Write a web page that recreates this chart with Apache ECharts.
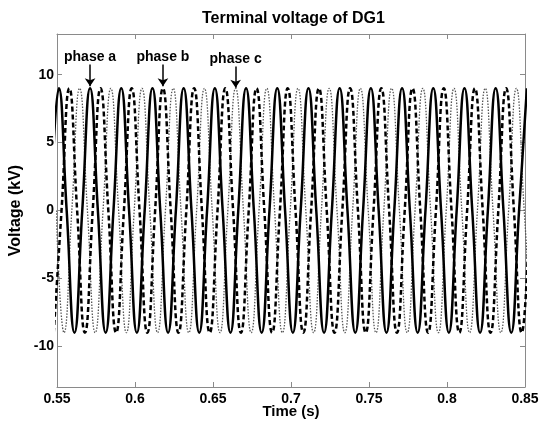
<!DOCTYPE html>
<html><head><meta charset="utf-8">
<script src="https://cdn.jsdelivr.net/npm/echarts@6/dist/echarts.min.js"></script>
<style>html,body{margin:0;padding:0;background:#fff}#c{width:548px;height:422px}</style>
</head><body><div id="c"></div>
<script>
// ---- data (time in s, voltage in kV) ----
const phaseATimes = [0.5462,0.5512,0.5562,0.5612,0.5662,0.5712,0.5762,0.5812,0.5862,0.5912,
0.5962,0.6012,0.6062,0.6112,0.6162,0.6212,0.6262,0.6312,0.6362,0.6412,
0.6462,0.6512,0.6562,0.6612,0.6662,0.6712,0.6762,0.6812,0.6862,0.6912,
0.6962,0.7012,0.7062,0.7112,0.7162,0.7212,0.7262,0.7312,0.7362,0.7412,
0.7462,0.7512,0.7562,0.7612,0.7662,0.7712,0.7762,0.7812,0.7862,0.7912,
0.7962,0.8012,0.8062,0.8112,0.8162,0.8212,0.8262,0.8312,0.8362,0.8412,
0.8462,0.8512];
const phaseAValues = [0,9,0,-9,0,9,0,-9,0,9,0,-9,0,9,0,-9,0,9,0,-9,
0,9,0,-9,0,9,0,-9,0,9,0,-9,0,9,0,-9,0,9,0,-9,
0,9,0,-9,0,9,0,-9,0,9,0,-9,0,9,0,-9,0,9,0,-9,
0,9];
const phaseBTimes = [0.5479,0.5529,0.5579,0.5629,0.5679,0.5729,0.5779,0.5829,0.5879,0.5929,
0.5979,0.6029,0.6079,0.6129,0.6179,0.6229,0.6279,0.6329,0.6379,0.6429,
0.6479,0.6529,0.6579,0.6629,0.6679,0.6729,0.6779,0.6829,0.6879,0.6929,
0.6979,0.7029,0.7079,0.7129,0.7179,0.7229,0.7279,0.7329,0.7379,0.7429,
0.7479,0.7529,0.7579,0.7629,0.7679,0.7729,0.7779,0.7829,0.7879,0.7929,
0.7979,0.8029,0.8079,0.8129,0.8179,0.8229,0.8279,0.8329,0.8379,0.8429,
0.8479,0.8529];
const phaseBValues = [-9,0,9,0,-9,0,9,0,-9,0,9,0,-9,0,9,0,-9,0,9,0,
-9,0,9,0,-9,0,9,0,-9,0,9,0,-9,0,9,0,-9,0,9,0,
-9,0,9,0,-9,0,9,0,-9,0,9,0,-9,0,9,0,-9,0,9,0,
-9,0];
const phaseCTimes = [0.5495,0.5545,0.5595,0.5645,0.5695,0.5745,0.5795,0.5845,0.5895,0.5945,
0.5995,0.6045,0.6095,0.6145,0.6195,0.6245,0.6295,0.6345,0.6395,0.6445,
0.6495,0.6545,0.6595,0.6645,0.6695,0.6745,0.6795,0.6845,0.6895,0.6945,
0.6995,0.7045,0.7095,0.7145,0.7195,0.7245,0.7295,0.7345,0.7395,0.7445,
0.7495,0.7545,0.7595,0.7645,0.7695,0.7745,0.7795,0.7845,0.7895,0.7945,
0.7995,0.8045,0.8095,0.8145,0.8195,0.8245,0.8295,0.8345,0.8395,0.8445,
0.8495,0.8545];
const phaseCValues = [0,-9,0,9,0,-9,0,9,0,-9,0,9,0,-9,0,9,0,-9,0,9,
0,-9,0,9,0,-9,0,9,0,-9,0,9,0,-9,0,9,0,-9,0,9,
0,-9,0,9,0,-9,0,9,0,-9,0,9,0,-9,0,9,0,-9,0,9,
0,-9];

const xTickLabels = ['0.55','0.6','0.65','0.7','0.75','0.8','0.85'];
const yTickLabels = ['-10','-5','0','5','10'];

// annotations: label text, time of arrow, label height, arrow start and tip (kV)
const annotationNames = ['phase a','phase b','phase c'];
const annotationTimes = [0.5712, 0.6179, 0.6645];
const annotationLabelY = [11.3, 11.3, 11.15];
const annotationArrowTop = [10.75, 10.75, 10.6];
const annotationArrowTip = [9.15, 9.15, 9.05];

const FONT = '"Liberation Sans", Arial, Helvetica, sans-serif';
const AXIS_GRAY = '#8a8a8a';

function pairs(ts, vs){ return ts.map((t,i)=>[t, vs[i]]); }

function baseX(extra){
  return Object.assign({
    type:'value', min:0.55, max:0.85, interval:0.05,
    axisLine:{show:true, onZero:false, lineStyle:{color:AXIS_GRAY, width:1}},
    axisTick:{show:true, inside:true, length:5, lineStyle:{color:AXIS_GRAY}},
    splitLine:{show:false}
  }, extra);
}
function baseY(extra){
  return Object.assign({
    type:'value', min:-13, max:13,
    axisLine:{show:true, onZero:false, lineStyle:{color:AXIS_GRAY, width:1}},
    axisTick:{show:true, inside:true, length:5, lineStyle:{color:AXIS_GRAY}},
    splitLine:{show:false}
  }, extra);
}

const chart = echarts.init(document.getElementById('c'), null, {renderer:'canvas'});
chart.setOption({
  animation:false,
  backgroundColor:'#fff',
  textStyle:{fontFamily:FONT},
  title:{
    text:'Terminal voltage of DG1', left:197, top:6,
    textStyle:{fontFamily:FONT, fontSize:16, fontWeight:'bold', color:'#000'}
  },
  grid:{left:57, right:23, top:34, bottom:35, containLabel:false, outerBoundsMode:'none'},
  xAxis:[
    baseX({position:'bottom',
      name:'Time (s)', nameLocation:'middle', nameGap:17, nameMoveOverlap:false,
      nameTextStyle:{fontFamily:FONT, fontSize:15, fontWeight:'bold', color:'#000'},
      axisLabel:{color:'#000', fontSize:14, fontWeight:'bold', fontFamily:FONT, margin:5,
        formatter:v=>{const s=String(+(+v).toFixed(2)); return xTickLabels.includes(s)?s:'';}}}),
    baseX({position:'top', axisLabel:{show:false}})
  ],
  yAxis:[
    baseY({position:'left',
      name:'Voltage (kV)', nameLocation:'middle', nameGap:33, nameRotate:90, nameMoveOverlap:false,
      nameTextStyle:{fontFamily:FONT, fontSize:16, fontWeight:'bold', color:'#000'},
      axisLabel:{color:'#000', fontSize:14, fontWeight:'bold', fontFamily:FONT, margin:3,
        showMinLabel:false, showMaxLabel:false,
        formatter:v=>{const s=String(Math.round(v)); return (Math.abs(v-Math.round(v))<1e-6 && yTickLabels.includes(s))?s:'';}}}),
    baseY({position:'right', axisLabel:{show:false}})
  ],
  series:[
    {name:'phase c', type:'line', data:pairs(phaseCTimes, phaseCValues), smooth:0.5,
     showSymbol:false, clip:true, lineStyle:{color:'#555', width:1.3, type:[1.5,1.5]}},
    {name:'phase b', type:'line', data:pairs(phaseBTimes, phaseBValues), smooth:0.5,
     showSymbol:false, clip:true, lineStyle:{color:'#000', width:2.5, type:[5,3]}},
    {name:'phase a', type:'line', data:pairs(phaseATimes, phaseAValues), smooth:0.5,
     showSymbol:false, clip:true, lineStyle:{color:'#000', width:2.5, type:'solid'}},
    {name:'annotations', type:'scatter', symbolSize:0, itemStyle:{color:'#000', opacity:1},
     silent:true, z:5,
     data:annotationNames.map((n,i)=>({name:n, value:[annotationTimes[i], annotationLabelY[i]]})),
     label:{show:true, position:'inside', formatter:'{b}', color:'#000', opacity:1,
       textBorderWidth:0, fontSize:14, fontWeight:'bold', fontFamily:FONT},
     markLine:{silent:true, symbol:['none','arrow'], symbolSize:8, animation:false,
       label:{show:false}, lineStyle:{color:'#000', width:1.5, type:'solid'},
       emphasis:{disabled:true},
       data:annotationNames.map((n,i)=>[{coord:[annotationTimes[i], annotationArrowTop[i]]},
                                         {coord:[annotationTimes[i], annotationArrowTip[i]]}])}}
  ]
});
</script></body></html>
